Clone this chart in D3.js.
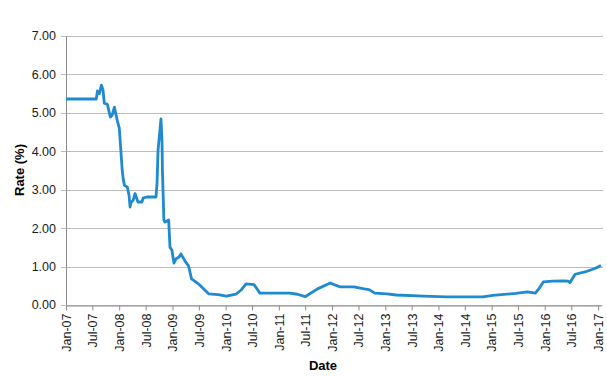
<!DOCTYPE html>
<html>
<head>
<meta charset="utf-8">
<script src="https://cdn.jsdelivr.net/npm/d3@7"></script>
<style>
  body { margin: 0; background: #fff; }
  text { font-family: "Liberation Sans", Arial, sans-serif; }
</style>
</head>
<body>
<script>
// data
const dates = ["2007-01-01","2007-07-28","2007-08-05","2007-08-18","2007-09-01","2007-09-12","2007-09-21","2007-10-12",
  "2007-11-02","2007-11-15","2007-11-29","2007-12-19","2008-01-02","2008-01-22","2008-01-30","2008-02-06","2008-02-12",
  "2008-02-26","2008-03-09","2008-03-16","2008-03-23","2008-04-06","2008-04-19","2008-05-09","2008-06-06","2008-06-13",
  "2008-07-10","2008-09-10","2008-09-17","2008-09-24","2008-10-14","2008-10-21","2008-10-24","2008-11-03","2008-11-10",
  "2008-12-06","2008-12-15","2008-12-28","2009-01-11","2009-01-25","2009-02-15","2009-02-28","2009-04-01","2009-04-21",
  "2009-05-12","2009-06-28","2009-08-02","2009-09-06","2009-11-12","2010-01-06","2010-03-13","2010-04-17","2010-05-21",
  "2010-07-15","2010-08-24","2010-12-05","2011-03-15","2011-05-09","2011-07-03","2011-09-24","2011-12-21","2012-02-27",
  "2012-06-01","2012-08-09","2012-09-12","2012-10-21","2013-01-12","2013-03-18","2013-09-21","2014-02-24","2014-11-03",
  "2015-01-09","2015-06-15","2015-09-03","2015-10-28","2015-11-25","2015-12-22","2016-02-22","2016-05-06","2016-06-09",
  "2016-06-22","2016-07-27","2016-10-03","2016-12-10","2017-01-21"]
const rates = [5.36,5.36,5.57,5.50,5.72,5.60,5.25,5.22,
  4.89,4.95,5.15,4.80,4.60,3.50,3.25,3.12,3.10,
  3.07,2.85,2.55,2.68,2.72,2.90,2.68,2.68,2.78,
  2.81,2.81,3.17,4.03,4.84,4.29,3.51,2.21,2.16,
  2.21,1.50,1.43,1.09,1.20,1.25,1.33,1.12,1.02,
  0.68,0.55,0.42,0.29,0.27,0.23,0.28,0.39,0.55,
  0.53,0.31,0.31,0.31,0.28,0.22,0.42,0.57,0.47,
  0.47,0.42,0.40,0.31,0.29,0.26,0.23,0.21,0.21,
  0.25,0.30,0.34,0.31,0.44,0.60,0.62,0.63,0.62,
  0.58,0.80,0.86,0.95,1.03]
const yTicks = [0, 1, 2, 3, 4, 5, 6, 7]

const width = 607
const height = 377
const parse = d3.timeParse("%Y-%m-%d")
const data = dates.map((d, i) => ({ date: parse(d), rate: rates[i] }))

var svg = d3.select("body").append("svg")
    .attr("width", width)
    .attr("height", height)

var x = d3.scaleTime()
    .domain([parse("2007-01-01"), parse("2017-01-21")])
    .range([66, 601])

var y = d3.scaleLinear()
    .domain([0, 7])
    .range([305, 36])

//Gridlines
svg.append("g")
    .selectAll("line")
    .data(yTicks)
    .enter()
    .append("line")
        .attr("x1", 61)
        .attr("x2", 603)
        .attr("y1", d => Math.round(y(d)) + 0.5)
        .attr("y2", d => Math.round(y(d)) + 0.5)
        .attr("stroke", "#bdbdbd")
        .attr("stroke-width", 1)

//y labels
svg.append("g")
    .selectAll("text")
    .data(yTicks)
    .enter()
    .append("text")
        .attr("x", 56)
        .attr("y", d => y(d))
        .attr("dy", "0.35em")
        .attr("text-anchor", "end")
        .attr("font-size", "12.5px")
        .attr("fill", "#1a1a1a")
        .text(d => d3.format(".2f")(d))

//y axis line
svg.append("line")
    .attr("x1", 66.5).attr("x2", 66.5)
    .attr("y1", 36).attr("y2", 305)
    .attr("stroke", "#8c8c8c")

//x axis
var xAxis = d3.axisBottom(x)
    .ticks(d3.timeMonth.every(6))
    .tickFormat(d3.timeFormat("%b-%y"))
    .tickSize(5)
    .tickSizeOuter(0)

var gx = svg.append("g")
    .attr("transform", "translate(0," + (Math.round(y(0)) + 0.5) + ")")
    .call(xAxis)
gx.select(".domain").attr("stroke", "#8c8c8c")
gx.selectAll(".tick line").attr("stroke", "#8c8c8c")
gx.selectAll(".tick text")
    .attr("font-family", "Liberation Sans, Arial, sans-serif")
    .attr("font-size", "12.5px")
    .attr("fill", "#1a1a1a")
    .attr("text-anchor", "end")
    .attr("transform", "rotate(-90)")
    .attr("x", -8)
    .attr("y", 0)
    .attr("dy", "0.35em")

//line
var line = d3.line()
    .x(d => x(d.date))
    .y(d => y(d.rate))

svg.append("path")
    .datum(data)
    .attr("d", line)
    .attr("fill", "none")
    .attr("stroke", "#1f8ad0")
    .attr("stroke-width", 2.8)
    .attr("stroke-linejoin", "round")

//axis titles
svg.append("text")
    .attr("transform", "translate(24,170) rotate(-90)")
    .attr("text-anchor", "middle")
    .attr("font-size", "13px")
    .attr("font-weight", "bold")
    .text("Rate (%)")

svg.append("text")
    .attr("x", 323)
    .attr("y", 370)
    .attr("text-anchor", "middle")
    .attr("font-size", "13px")
    .attr("font-weight", "bold")
    .text("Date")
</script>
</body>
</html>
